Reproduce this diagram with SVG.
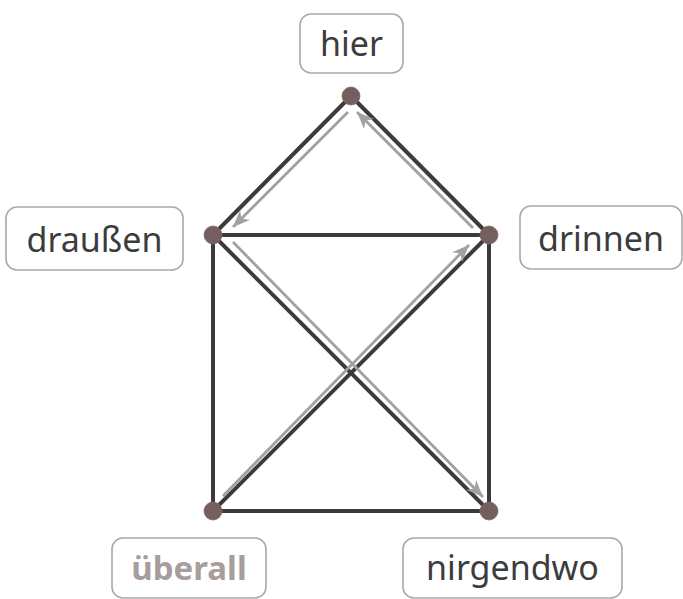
<svg xmlns="http://www.w3.org/2000/svg" width="683" height="599" viewBox="0 0 683 599">
<style>
.box{fill:#ffffff;stroke:#a9a9a9;stroke-width:1.6}
.lbl{font-family:"Noto Sans","Open Sans",sans-serif;font-size:34px;fill:#3c3c3c;text-anchor:middle}
.lbl-b{font-family:"Noto Sans","Open Sans",sans-serif;font-size:33px;font-weight:bold;fill:#a79e9b;text-anchor:middle}
.edge{stroke:#3b3b3b;stroke-width:4;stroke-linecap:butt;fill:none}
.arr{stroke:#a3a09f;stroke-width:2.8;fill:none;marker-end:url(#ah)}
.dot{fill:#735f5e;stroke:#8a6464;stroke-width:0.8}
</style>
<defs>
<marker id="ah" markerUnits="userSpaceOnUse" markerWidth="18" markerHeight="16" refX="17" refY="8" orient="auto" viewBox="0 0 18 16">
<path d="M0,1 L17,8 L0,15 L5,8 Z" fill="#a3a09f"/>
</marker>
</defs>
<g id="connectors">
<line class="edge" x1="351" y1="96" x2="213" y2="235"/>
<line class="edge" x1="351" y1="96" x2="489" y2="235"/>
<line class="edge" x1="213" y1="235" x2="489" y2="235"/>
<line class="edge" x1="213" y1="235" x2="213" y2="511"/>
<line class="edge" x1="489" y1="235" x2="489" y2="511"/>
<line class="edge" x1="213" y1="511" x2="489" y2="511"/>
<line class="edge" x1="213" y1="235" x2="489" y2="511"/>
<line class="edge" x1="213" y1="511" x2="489" y2="235"/>
<line class="arr" x1="223" y1="496" x2="469" y2="245"/>
<line class="arr" x1="473" y1="228" x2="357" y2="112"/>
<line class="arr" x1="348" y1="112" x2="233" y2="227"/>
<line class="arr" x1="233" y1="242" x2="483" y2="497"/>
</g>
<g id="node-hier">
<rect class="box" x="300" y="14" width="103" height="59" rx="11"/>
<text class="lbl" x="351.5" y="56">hier</text>
<circle class="dot" cx="351" cy="96" r="9"/>
</g>
<g id="node-draussen">
<rect class="box" x="6" y="207" width="177" height="63" rx="11"/>
<text class="lbl" x="94.5" y="252">draußen</text>
<circle class="dot" cx="213" cy="235" r="9"/>
</g>
<g id="node-drinnen">
<rect class="box" x="520" y="206" width="162" height="63" rx="11"/>
<text class="lbl" x="601" y="251">drinnen</text>
<circle class="dot" cx="489" cy="235" r="9"/>
</g>
<g id="node-ueberall">
<rect class="box" x="112" y="538" width="154" height="60" rx="11"/>
<text class="lbl-b" x="189" y="580">überall</text>
<circle class="dot" cx="213" cy="511" r="9"/>
</g>
<g id="node-nirgendwo">
<rect class="box" x="403" y="538" width="219" height="60" rx="11"/>
<text class="lbl" x="512.5" y="580">nirgendwo</text>
<circle class="dot" cx="489" cy="511" r="9"/>
</g>
</svg>
